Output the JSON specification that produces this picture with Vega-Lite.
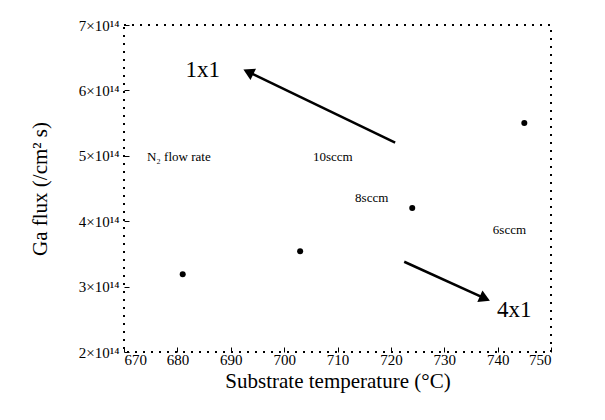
{
  "$schema": "https://vega.github.io/schema/vega-lite/v6.json",
  "autosize": "none",
  "width": 427,
  "height": 327,
  "padding": {"left": 124, "top": 25, "right": 54, "bottom": 68},
  "background": "white",
  "config": {
    "font": "Liberation Serif",
    "view": {"stroke": "#000", "strokeDash": [2, 6], "strokeWidth": 2},
    "axis": {"grid": false, "domain": false, "labelFont": "Liberation Serif", "titleFont": "Liberation Serif", "labelColor": "#000", "titleColor": "#000", "tickColor": "#000", "titleFontWeight": "normal"}
  },
  "datasets": {
    "points": [
      {"temperature": 681, "flux": 3.19e14},
      {"temperature": 703, "flux": 3.54e14},
      {"temperature": 724, "flux": 4.2e14},
      {"temperature": 745, "flux": 5.5e14}
    ],
    "arrows": [
      {"arrow": "1x1", "x1": 720.8, "y1": 5.2e14, "x2": 693.6, "y2": 6.27e14, "angle": 296},
      {"arrow": "4x1", "x1": 722.5, "y1": 3.38e14, "x2": 737.3, "y2": 2.83e14, "angle": 114}
    ],
    "smalltext": [
      {"label": "N₂ flow rate", "tx": 674.3, "ty": 4.98e14},
      {"label": "10sccm", "tx": 705.4, "ty": 4.98e14},
      {"label": "8sccm", "tx": 713.3, "ty": 4.35e14},
      {"label": "6sccm", "tx": 739.1, "ty": 3.87e14}
    ],
    "bigtext": [
      {"label": "1x1", "tx": 681.5, "ty": 6.31e14},
      {"label": "4x1", "tx": 739.9, "ty": 2.64e14}
    ]
  },
  "layer": [
    {
      "data": {"name": "points"},
      "mark": {"type": "point", "filled": true, "shape": "circle", "size": 36, "color": "#000", "opacity": 1},
      "encoding": {
        "x": {"field": "temperature", "type": "quantitative", "scale": {"domain": [670, 750], "nice": false, "zero": false},
          "axis": {"values": [670, 680, 690, 700, 710, 720, 730, 740, 750], "title": "Substrate temperature (°C)", "titleFontSize": 21, "labelFontSize": 15, "tickSize": -5, "labelPadding": 5, "titlePadding": 3}},
        "y": {"field": "flux", "type": "quantitative", "scale": {"domain": [2e14, 7e14], "nice": false, "zero": false},
          "axis": {"values": [2e14, 3e14, 4e14, 5e14, 6e14, 7e14], "labelExpr": "format(datum.value/1e14,'d') + '×10¹⁴'", "title": "Ga flux (/cm² s)", "titleFontSize": 21, "labelFontSize": 15, "tickSize": -5, "labelPadding": 10, "titlePadding": 28}}
      }
    },
    {
      "data": {"name": "arrows"},
      "mark": {"type": "rule", "color": "#000", "strokeWidth": 2.5},
      "encoding": {
        "x": {"field": "x1", "type": "quantitative"},
        "y": {"field": "y1", "type": "quantitative"},
        "x2": {"field": "x2"},
        "y2": {"field": "y2"}
      }
    },
    {
      "data": {"name": "arrows"},
      "mark": {"type": "point", "shape": "triangle", "filled": true, "size": 160, "color": "#000", "opacity": 1},
      "encoding": {
        "x": {"field": "x2", "type": "quantitative"},
        "y": {"field": "y2", "type": "quantitative"},
        "angle": {"field": "angle", "type": "quantitative", "scale": null}
      }
    },
    {
      "data": {"name": "smalltext"},
      "mark": {"type": "text", "align": "left", "baseline": "middle", "fontSize": 13, "color": "#000"},
      "encoding": {
        "x": {"field": "tx", "type": "quantitative"},
        "y": {"field": "ty", "type": "quantitative"},
        "text": {"field": "label"}
      }
    },
    {
      "data": {"name": "bigtext"},
      "mark": {"type": "text", "align": "left", "baseline": "middle", "fontSize": 23, "color": "#000"},
      "encoding": {
        "x": {"field": "tx", "type": "quantitative"},
        "y": {"field": "ty", "type": "quantitative"},
        "text": {"field": "label"}
      }
    }
  ]
}
